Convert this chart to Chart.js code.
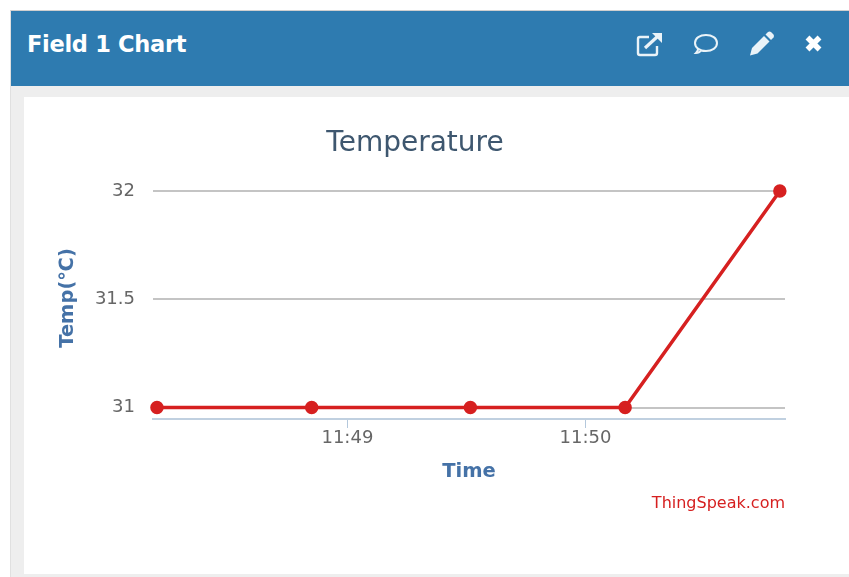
<!DOCTYPE html>
<html>
<head>
<meta charset="utf-8">
<title>Field 1 Chart</title>
<script src="https://cdn.jsdelivr.net/npm/chart.js@4"></script>
<style>
    html, body { margin: 0; padding: 0; background: #fff; overflow: hidden; }
    #page { position: relative; width: 849px; height: 577px; overflow: hidden; }
    #frame { position: absolute; left: 10px; top: 10px; width: 839px; height: 567px; background: #eeeeee; border-left: 1px solid #e0e0e0; border-top: 1px solid #cfcfcf; box-sizing: border-box; }
    #header { position: absolute; left: 11px; top: 11px; width: 838px; height: 75px; background: #2e7bb0; }
    #header h3 { position: absolute; left: 16px; top: 20px; margin: 0; color: #fff; font: bold 22.5px "DejaVu Sans", sans-serif; letter-spacing: -0.3px; }
    #header svg { position: absolute; top: 0; left: 0; }
    #panel { position: absolute; left: 24px; top: 97px; width: 825px; height: 477px; background: #fff; }
    canvas { position: absolute; left: 0; top: 0; }
</style>
</head>
<body>
<div id="page">
    <div id="frame"></div>
    <div id="header">
        <h3>Field 1 Chart</h3>
        <svg width="838" height="75" fill="none" stroke="#eaf3f8">
            <!-- open in new window -->
            <path d="M638 26 h-9 a2 2 0 0 0 -2 2 v14 a2 2 0 0 0 2 2 h15 a2 2 0 0 0 2 -2 v-7" stroke-width="2.4"/>
            <path d="M634 37 L646 26" stroke-width="3.2"/>
            <path d="M641 22 H651 V32 Z" fill="#eaf3f8" stroke="none"/>
            <!-- comment -->
            <path d="M695 40 c-6 0 -11 -3 -11 -8 c0 -5 5 -8 11 -8 s11 3 11 8 c0 5 -5 8 -11 8 c-2 0 -3 0 -5 -.5 c-1 1.5 -3 2.5 -5 2.5 c1 -1 2 -2.5 2 -4" stroke-width="2"/>
            <!-- pencil -->
            <path d="M739 44.5 L741 37 L753 25 L758.5 30.5 L746.5 42.5 Z" fill="#eaf3f8" stroke="none"/>
            <path d="M754.5 23.5 L757 21 Q758.5 20 760 21 L762.5 23.5 Q763.5 25 762.5 26.5 L760 29 Z" fill="#eaf3f8" stroke="none"/>
            <!-- close -->
            <path d="M796.5 26.5 L808.5 38.5 M808.5 26.5 L796.5 38.5" stroke="#ffffff" stroke-width="5.5"/>
        </svg>
    </div>
    <div id="panel"><canvas id="temp-chart" width="782" height="477"></canvas></div>
</div>
<script>
    // Field values
    const times = ['11:48:12', '11:48:51', '11:49:31', '11:50:10', '11:50:49'];
    const temps = [31, 31, 31, 31, 32];
    const yTicks = [31, 31.5, 32];
    const xTickLabels = ['11:49', '11:50'];

    function toSeconds(t) {
        const p = t.split(':').map(Number);
        return p[0] * 3600 + p[1] * 60 + (p[2] || 0);
    }
    function toLabel(s) {
        const m = Math.round(s / 60);
        return Math.floor(m / 60) + ':' + String(m % 60).padStart(2, '0');
    }

    const fontFamily = '"DejaVu Sans", sans-serif';

    // y axis title sits a bit above the middle of the axis, credit sits bottom right
    const extraLabels = {
        id: 'extraLabels',
        afterDraw(chart) {
            const c = chart.ctx;
            c.save();
            c.fillStyle = '#d62020';
            c.font = '16px ' + fontFamily;
            c.textAlign = 'right';
            c.textBaseline = 'middle';
            c.fillText('ThingSpeak.com', chart.chartArea.right, 407);
            c.translate(44, 201);
            c.rotate(-Math.PI / 2);
            c.fillStyle = '#4572a7';
            c.font = 'bold 19.5px ' + fontFamily;
            c.textAlign = 'center';
            c.fillText('Temp(℃)', 0, 0);
            c.restore();
        }
    };

    const ctx = document.getElementById('temp-chart').getContext('2d');
    new Chart(ctx, {
        type: 'line',
        data: {
            datasets: [{
                label: 'Temperature',
                data: times.map((t, i) => ({ x: toSeconds(t), y: temps[i] })),
                borderColor: '#d62020',
                backgroundColor: '#d62020',
                borderWidth: 3.5,
                pointRadius: 5,
                pointHoverRadius: 5,
                tension: 0,
                clip: false
            }]
        },
        options: {
            responsive: false,
            animation: false,
            layout: { padding: { left: 21, right: 21, top: 0, bottom: 90 } },
            plugins: {
                legend: { display: false },
                tooltip: { enabled: false },
                title: {
                    display: true,
                    text: 'Temperature',
                    color: '#3e576f',
                    font: { family: fontFamily, size: 28, weight: 'normal' },
                    padding: { top: 30, bottom: 30.4 }
                }
            },
            scales: {
                x: {
                    type: 'linear',
                    min: toSeconds('11:48:11'),
                    max: toSeconds('11:50:50.3'),
                    afterFit(scale) { scale.height = 65; },
                    afterBuildTicks(scale) {
                        scale.ticks = xTickLabels.map(l => ({ value: toSeconds(l) }));
                    },
                    grid: { drawOnChartArea: false, color: '#b4c8dc', tickLength: 9, lineWidth: 1 },
                    border: { color: '#c0d0e0', width: 2 },
                    ticks: {
                        color: '#666666',
                        font: { family: fontFamily, size: 18 },
                        padding: 0,
                        maxRotation: 0,
                        callback: value => toLabel(value)
                    },
                    title: {
                        display: true,
                        text: 'Time',
                        color: '#4572a7',
                        font: { family: fontFamily, size: 19.5, weight: 'bold' },
                        padding: { top: 12, bottom: 0 }
                    }
                },
                y: {
                    type: 'linear',
                    min: 30.947,
                    max: 32,
                    afterFit(scale) { scale.width = 108; },
                    afterBuildTicks(scale) {
                        scale.ticks = yTicks.map(v => ({ value: v }));
                    },
                    grid: { color: '#c4c4c4', lineWidth: 2, drawTicks: false },
                    border: { display: false },
                    ticks: {
                        color: '#666666',
                        font: { family: fontFamily, size: 18 },
                        padding: 18,
                        callback: value => String(value)
                    }
                }
            }
        },
        plugins: [extraLabels]
    });
</script>
</body>
</html>
